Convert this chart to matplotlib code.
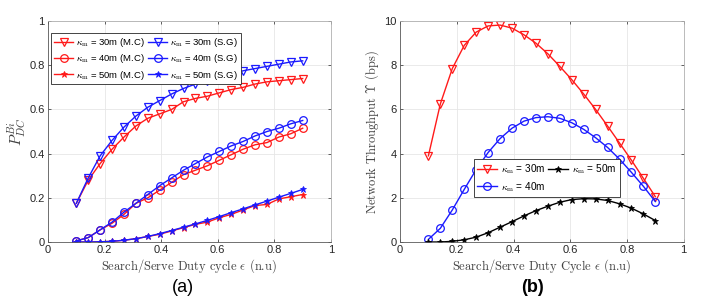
import numpy as np
import matplotlib
matplotlib.use('Agg')
import matplotlib.pyplot as plt

plt.rcParams['mathtext.fontset'] = 'cm'
plt.rcParams['font.family'] = ['Liberation Sans', 'DejaVu Sans']

# duty cycle samples
eps = np.linspace(0.1, 0.9, 20)

# (a) P_DC^Bi
mc30 = [0.175, 0.28, 0.355, 0.42, 0.475, 0.525, 0.56, 0.58, 0.60, 0.635,
        0.65, 0.66, 0.675, 0.69, 0.70, 0.715, 0.725, 0.73, 0.735, 0.74]
sg30 = [0.175, 0.29, 0.39, 0.46, 0.52, 0.57, 0.61, 0.64, 0.67, 0.695,
        0.715, 0.73, 0.745, 0.76, 0.775, 0.785, 0.795, 0.805, 0.815, 0.82]
mc40 = [0.005, 0.02, 0.055, 0.085, 0.125, 0.175, 0.20, 0.235, 0.27, 0.305,
        0.325, 0.345, 0.37, 0.395, 0.42, 0.44, 0.45, 0.475, 0.49, 0.515]
sg40 = [0.005, 0.02, 0.055, 0.09, 0.135, 0.175, 0.215, 0.255, 0.29, 0.325,
        0.355, 0.385, 0.41, 0.435, 0.455, 0.48, 0.50, 0.515, 0.535, 0.55]
mc50 = [0.0, 0.0, 0.001, 0.003, 0.008, 0.015, 0.025, 0.035, 0.05, 0.065,
        0.08, 0.09, 0.11, 0.125, 0.145, 0.165, 0.17, 0.195, 0.205, 0.215]
sg50 = [0.0, 0.0, 0.001, 0.003, 0.008, 0.015, 0.025, 0.038, 0.052, 0.067,
        0.082, 0.098, 0.115, 0.133, 0.15, 0.168, 0.185, 0.203, 0.22, 0.238]

# (b) throughput
thr30 = [3.9, 6.25, 7.85, 8.9, 9.5, 9.78, 9.82, 9.68, 9.38, 9.0,
         8.52, 7.95, 7.35, 6.7, 6.0, 5.25, 4.48, 3.7, 2.88, 2.05]
thr40 = [0.12, 0.62, 1.45, 2.38, 3.28, 4.05, 4.68, 5.15, 5.47, 5.63,
         5.67, 5.6, 5.4, 5.1, 4.72, 4.28, 3.75, 3.15, 2.52, 1.83]
thr50 = [0.0, 0.0, 0.03, 0.1, 0.22, 0.42, 0.67, 0.92, 1.18, 1.42,
         1.62, 1.8, 1.92, 1.96, 1.95, 1.88, 1.73, 1.53, 1.27, 0.97]

red = '#ff1a1a'
blue = '#1a1aff'

fig = plt.figure(figsize=(7.2, 3.01), dpi=100)
ax1 = fig.add_axes([0.0667, 0.196, 0.393, 0.734])
ax2 = fig.add_axes([0.5556, 0.196, 0.394, 0.734])

lab_kw = dict(fontsize=9, color='#404040', family='cmr10')


def style(ax):
    ax.set_xlim(0, 1)
    ax.set_xticks(np.arange(0, 1.01, 0.2))
    ax.set_xticklabels(['0', '0.2', '0.4', '0.6', '0.8', '1'])
    ax.grid(True, color='#e6e6e6', lw=0.6)
    ax.set_axisbelow(True)
    ax.tick_params(direction='in', length=2.5, labelsize=8, width=0.5,
                   colors='#262626', top=True, right=True, pad=2.5)
    for s in ax.spines.values():
        s.set_color('#b0b0b0')
        s.set_linewidth(0.6)
    ax.spines['left'].set_color('#5a5a5a')
    ax.spines['bottom'].set_color('#5a5a5a')


kw = dict(lw=1.0, ms=5.5, mfc='none', mew=0.9)
skw = dict(lw=1.0, ms=5, mew=0.6)
h1, = ax1.plot(eps, mc30, 'v-', color=red, **kw)
h2, = ax1.plot(eps, mc40, 'o-', color=red, **kw)
h3, = ax1.plot(eps, mc50, '*-', color=red, **skw)
h4, = ax1.plot(eps, sg30, 'v-', color=blue, **kw)
h5, = ax1.plot(eps, sg40, 'o-', color=blue, **kw)
h6, = ax1.plot(eps, sg50, '*-', color=blue, **skw)
style(ax1)
ax1.set_ylim(0, 1)
ax1.set_yticks(np.arange(0, 1.01, 0.2))
ax1.set_yticklabels(['0', '0.2', '0.4', '0.6', '0.8', '1'])
ax1.set_ylabel(r'$P_{DC}^{Bi}$', fontsize=11, color='#404040', labelpad=1)
ax1.set_xlabel(r'Search/Serve Duty cycle $\epsilon$ (n.u)', labelpad=1, **lab_kw)
labs = [r'$\kappa_{\rm m}$ = 30m (M.C)', r'$\kappa_{\rm m}$ = 40m (M.C)',
        r'$\kappa_{\rm m}$ = 50m (M.C)', r'$\kappa_{\rm m}$ = 30m (S.G)',
        r'$\kappa_{\rm m}$ = 40m (S.G)', r'$\kappa_{\rm m}$ = 50m (S.G)']
leg = ax1.legend([h1, h2, h3, h4, h5, h6], labs, ncol=2, fontsize=6.8,
                 loc='upper left', bbox_to_anchor=(0.012, 0.945),
                 handlelength=2.0, handletextpad=0.3, columnspacing=0.4,
                 labelspacing=0.35, borderpad=0.3, fancybox=False,
                 framealpha=1, borderaxespad=0)
leg.get_frame().set_edgecolor('#262626')
leg.get_frame().set_linewidth(0.6)

g1, = ax2.plot(eps, thr30, 'v-', color=red, **kw)
g2, = ax2.plot(eps, thr40, 'o-', color=blue, **kw)
g3, = ax2.plot(eps, thr50, '*-', color='black', **skw)
style(ax2)
ax2.set_ylim(0, 10)
ax2.set_yticks(np.arange(0, 10.1, 2))
ax2.set_ylabel(r'Network Throughput $\Upsilon$ (bps)', labelpad=2, **lab_kw)
ax2.set_xlabel(r'Search/Serve Duty Cycle $\epsilon$ (n.u)', labelpad=1, **lab_kw)
leg2 = ax2.legend([g1, g2, g3],
                  [r'$\kappa_{\rm m}$ = 30m', r'$\kappa_{\rm m}$ = 40m',
                   r'$\kappa_{\rm m}$ = 50m'],
                  ncol=2, fontsize=7.2, loc='upper left',
                  bbox_to_anchor=(0.26, 0.375), handlelength=2.0,
                  handletextpad=0.35, columnspacing=0.3, labelspacing=0.35,
                  borderpad=0.35, fancybox=False, framealpha=1, borderaxespad=0)
leg2.get_frame().set_edgecolor('#262626')
leg2.get_frame().set_linewidth(0.6)

fig.text(183 / 720, 1 - 287 / 301, '(a)', fontsize=13, ha='center', va='center')
fig.text(533 / 720, 1 - 287 / 301, '(b)', fontsize=13, ha='center', va='center',
         fontweight='bold')

fig.savefig('out.png', dpi=100)
